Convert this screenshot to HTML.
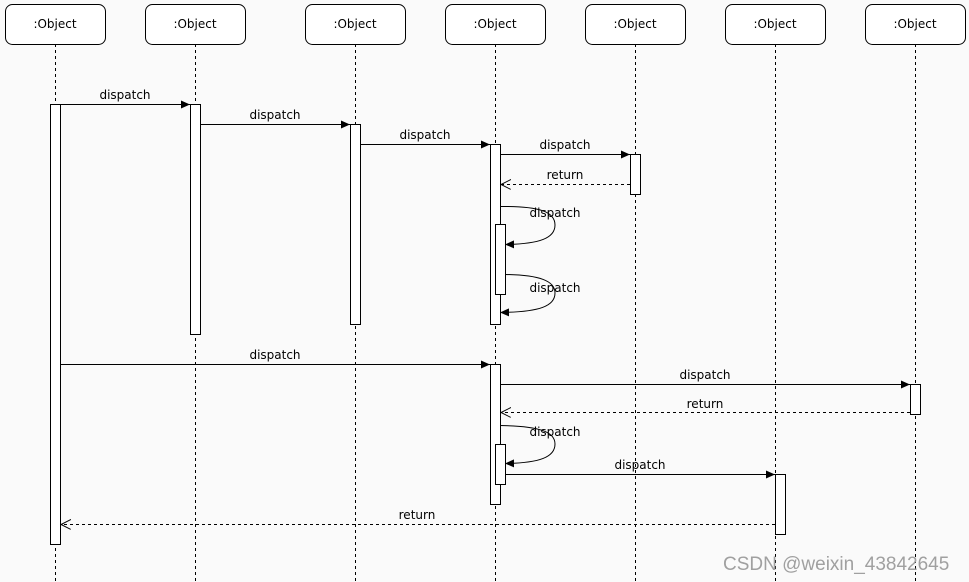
<!DOCTYPE html>
<html><head><meta charset="utf-8"><style>
html,body{margin:0;padding:0;background:#fafafa;}
svg{display:block;}
text{font-family:"DejaVu Sans","Liberation Sans",sans-serif;font-size:12px;fill:#000;}
</style></head><body>
<svg width="969" height="582" viewBox="0 0 969 582" xmlns="http://www.w3.org/2000/svg">
<defs>
<marker id="a" markerWidth="10" markerHeight="10" refX="9" refY="4" orient="auto" markerUnits="userSpaceOnUse"><path d="M0,0 L9,4 L0,8 Z" fill="#000"/></marker>
<marker id="o" markerWidth="12" markerHeight="12" refX="10" refY="5" orient="auto" markerUnits="userSpaceOnUse"><path d="M0,0 L10,5 L0,10" fill="none" stroke="#000"/></marker>
</defs>
<rect width="969" height="582" fill="#fafafa"/>
<g stroke="#000" stroke-dasharray="3,3" stroke-width="1">
<line x1="55.5" y1="44" x2="55.5" y2="582"/>
<line x1="195.5" y1="44" x2="195.5" y2="582"/>
<line x1="355.5" y1="44" x2="355.5" y2="582"/>
<line x1="495.5" y1="44" x2="495.5" y2="582"/>
<line x1="635.5" y1="44" x2="635.5" y2="582"/>
<line x1="775.5" y1="44" x2="775.5" y2="582"/>
<line x1="915.5" y1="44" x2="915.5" y2="582"/>
</g>
<g fill="#fff" stroke="#000">
<rect x="5.5" y="4.5" width="100" height="40" rx="7"/>
<rect x="145.5" y="4.5" width="100" height="40" rx="7"/>
<rect x="305.5" y="4.5" width="100" height="40" rx="7"/>
<rect x="445.5" y="4.5" width="100" height="40" rx="7"/>
<rect x="585.5" y="4.5" width="100" height="40" rx="7"/>
<rect x="725.5" y="4.5" width="100" height="40" rx="7"/>
<rect x="865.5" y="4.5" width="100" height="40" rx="7"/>
</g>
<g text-anchor="middle">
<text x="55" y="28">:Object</text><text x="195" y="28">:Object</text><text x="355" y="28">:Object</text><text x="495" y="28">:Object</text><text x="635" y="28">:Object</text><text x="775" y="28">:Object</text><text x="915" y="28">:Object</text>
</g>
<g fill="#fff" stroke="#000">
<rect x="50.5" y="104.5" width="10" height="440"/>
<rect x="190.5" y="104.5" width="10" height="230"/>
<rect x="350.5" y="124.5" width="10" height="200"/>
<rect x="490.5" y="144.5" width="10" height="180"/>
<rect x="630.5" y="154.5" width="10" height="40"/>
<rect x="495.5" y="224.5" width="10" height="70"/>
<rect x="490.5" y="364.5" width="10" height="140"/>
<rect x="495.5" y="444.5" width="10" height="40"/>
<rect x="910.5" y="384.5" width="10" height="30"/>
<rect x="775.5" y="474.5" width="10" height="60"/>
</g>
<g stroke="#000" fill="none">
<line x1="60" y1="104.5" x2="190" y2="104.5" marker-end="url(#a)"/>
<line x1="200" y1="124.5" x2="350" y2="124.5" marker-end="url(#a)"/>
<line x1="360" y1="144.5" x2="490" y2="144.5" marker-end="url(#a)"/>
<line x1="500" y1="154.5" x2="630" y2="154.5" marker-end="url(#a)"/>
<line x1="630" y1="184.5" x2="501" y2="184.5" stroke-dasharray="3,3" marker-end="url(#o)"/>
<path d="M500,206.5 C540,206 555,212 555,225 C555,238 540,244 505,244.5" marker-end="url(#a)"/>
<path d="M505,274.5 C540,275 555,281 555,293 C555,306 540,312 500,312.5" marker-end="url(#a)"/>
<line x1="60" y1="364.5" x2="490" y2="364.5" marker-end="url(#a)"/>
<line x1="500" y1="384.5" x2="910" y2="384.5" marker-end="url(#a)"/>
<line x1="910" y1="412.5" x2="501" y2="412.5" stroke-dasharray="3,3" marker-end="url(#o)"/>
<path d="M500,425.5 C540,426 555,432 555,444 C555,457 540,463 505,463.5" marker-end="url(#a)"/>
<line x1="505" y1="474.5" x2="775" y2="474.5" marker-end="url(#a)"/>
<line x1="775" y1="524.5" x2="61" y2="524.5" stroke-dasharray="3,3" marker-end="url(#o)"/>
</g>
<g text-anchor="middle">
<text x="125" y="99">dispatch</text>
<text x="275" y="119">dispatch</text>
<text x="425" y="139">dispatch</text>
<text x="565" y="149">dispatch</text>
<text x="565" y="179">return</text>
<text x="555" y="217">dispatch</text>
<text x="555" y="292">dispatch</text>
<text x="275" y="359">dispatch</text>
<text x="705" y="379">dispatch</text>
<text x="705" y="408">return</text>
<text x="555" y="436">dispatch</text>
<text x="640" y="469">dispatch</text>
<text x="417" y="519">return</text>
</g>
<text x="723" y="570" style="font-family:'Liberation Sans',sans-serif;font-size:19px;fill:#a0a0a0;">CSDN @weixin_43842645</text>
</svg>
</body></html>
